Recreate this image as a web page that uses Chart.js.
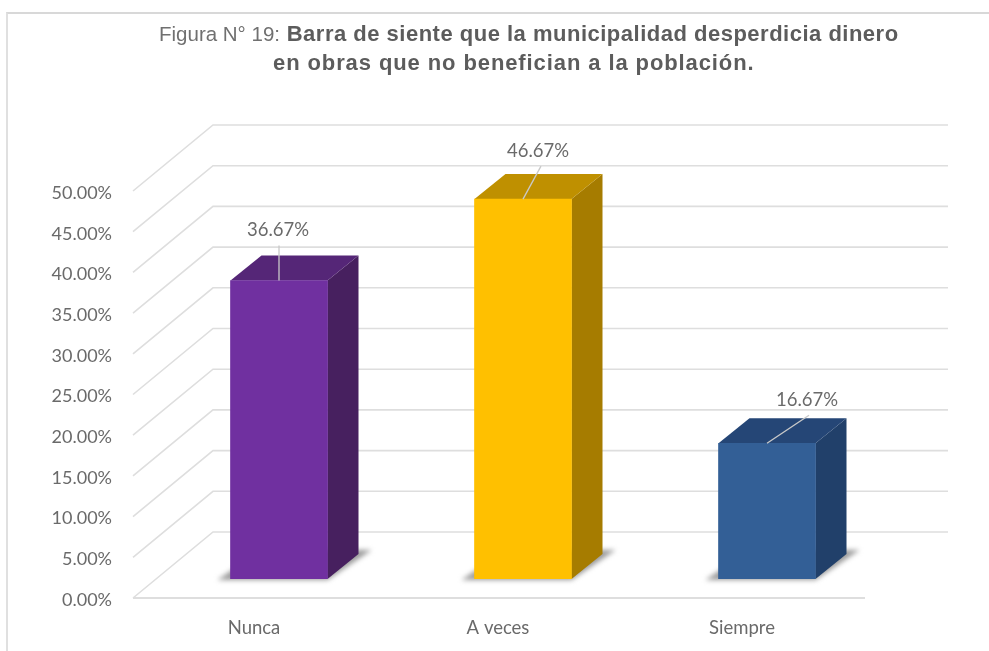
<!DOCTYPE html>
<html><head><meta charset="utf-8">
<script src="https://cdn.jsdelivr.net/npm/chart.js@4"></script>
<style>
html,body{margin:0;padding:0;background:#fff;width:989px;height:651px;overflow:hidden}
#wrap{position:relative;width:989px;height:651px;filter:blur(0.6px)}
canvas{position:absolute;left:0;top:0}
#title{position:absolute;left:0;top:0;width:989px;font-family:"Liberation Sans",Arial,sans-serif;white-space:nowrap}
#title div{position:absolute;line-height:29px}
#l1{left:159px;top:19px;color:#707070;font-size:20.5px}
#l1 b{font-size:22px;letter-spacing:.5px;color:#5c5c5c;margin-left:1px}
#l2{left:273px;top:48px;font-size:22px;letter-spacing:.9px;font-weight:bold;color:#5c5c5c}
#frame{position:absolute;left:6px;top:12px;width:983px;height:640px;border-left:2px solid #e0e0e0;border-top:2px solid #d8d8d8}
</style></head><body>
<div id="wrap">
<div id="frame"></div>
<canvas id="c" width="989" height="651"></canvas>
<div id="title"><div id="l1">Figura N° 19: <b>Barra de siente que la municipalidad desperdicia dinero</b></div><div id="l2">en obras que no benefician a la población.</div></div>
</div>
<script>
const categories = ['Nunca', 'A veces', 'Siempre'];
const values = [36.67, 46.67, 16.67];
const frontColors = ['#7030a0', '#ffc000', '#335f96'];
const sideColors = ['#47205f', '#a67c00', '#21406a'];
const topColors = ['#552677', '#bf9000', '#254676'];
const labelOffsets = [[-1, -50, 0, -35], [15, -48, 18, -33], [40, -43, 42, -28]];

const WALL_DX = 80, WALL_DY = 66;
const BAR_DX = 24, BAR_DY = -19;
const SIDE_DX = 31, SIDE_DY = 25;
const GRID = '#dedede', TEXT = '#6a6a6a';
const FONT = 'Lato, sans-serif';

const walls = {
  id: 'walls',
  beforeDraw(chart) {
    // axis labels sit slightly below and left of the wall corners
    chart.ctx.save();
    chart.ctx.translate(-1, 2);
  },
  beforeDatasetsDraw(chart) {
    const { ctx, scales: { x, y } } = chart;
    ctx.restore();
    const area = chart.chartArea;
    ctx.save();
    ctx.strokeStyle = GRID;
    ctx.lineWidth = 1.6;
    y.ticks.forEach(t => {
      const py = y.getPixelForValue(t.value);
      ctx.beginPath();
      ctx.moveTo(area.left, py);
      ctx.lineTo(area.left + WALL_DX, py - WALL_DY);
      ctx.lineTo(area.right + WALL_DX + 3, py - WALL_DY);
      ctx.stroke();
    });
    ctx.lineWidth = 2;
    ctx.beginPath();
    ctx.moveTo(area.left, area.bottom);
    ctx.lineTo(area.right, area.bottom);
    ctx.stroke();
    // floor shadows and 3D faces sit behind the library's own bars
    const meta = chart.getDatasetMeta(0);
    meta.data.forEach((bar, i) => {
      const h = bar.getProps(['x', 'y', 'base', 'width'], false);
      const l = h.x - h.width / 2 + BAR_DX, r = h.x + h.width / 2 + BAR_DX;
      const t = h.y + BAR_DY, b = h.base + BAR_DY;
      ctx.save();
      ctx.filter = 'blur(2.5px)';
      ctx.fillStyle = '#9a9a9a';
      ctx.beginPath();
      ctx.moveTo(l - 13, b + 1); ctx.lineTo(r, b + 1);
      ctx.lineTo(r + 44, b - 29); ctx.lineTo(l + 31, b - 29);
      ctx.closePath(); ctx.fill();
      ctx.restore();
      ctx.fillStyle = sideColors[i];
      ctx.beginPath();
      ctx.moveTo(r, t); ctx.lineTo(r + SIDE_DX, t - SIDE_DY);
      ctx.lineTo(r + SIDE_DX, b - SIDE_DY); ctx.lineTo(r, b);
      ctx.closePath(); ctx.fill();
      ctx.fillStyle = topColors[i];
      ctx.beginPath();
      ctx.moveTo(l, t); ctx.lineTo(l + SIDE_DX, t - SIDE_DY);
      ctx.lineTo(r + SIDE_DX, t - SIDE_DY); ctx.lineTo(r, t);
      ctx.closePath(); ctx.fill();
    });
    ctx.restore();
    ctx.save();
    ctx.translate(BAR_DX, BAR_DY);
  },
  afterDatasetsDraw(chart) {
    const { ctx } = chart;
    ctx.restore();
    ctx.save();
    ctx.font = '18.5px ' + FONT;
    ctx.textAlign = 'center';
    ctx.textBaseline = 'middle';
    chart.getDatasetMeta(0).data.forEach((bar, i) => {
      const cx = bar.x + BAR_DX, ty = bar.y + BAR_DY;
      const o = labelOffsets[i];
      ctx.strokeStyle = '#c9c9c9';
      ctx.lineWidth = 1.3;
      ctx.beginPath();
      ctx.moveTo(cx, ty);
      ctx.lineTo(cx + o[2], ty + o[3]);
      ctx.stroke();
      ctx.fillStyle = TEXT;
      ctx.fillText(values[i].toFixed(2) + '%', cx + o[0], ty + o[1]);
    });
    ctx.restore();
  }
};

new Chart(document.getElementById('c'), {
  type: 'bar',
  data: {
    labels: categories,
    datasets: [{ data: values, backgroundColor: frontColors, borderWidth: 0, barThickness: 97 }]
  },
  options: {
    responsive: false,
    animation: false,
    layout: { padding: { top: 191, right: 124, left: 0, bottom: 0 } },
    plugins: { legend: { display: false }, title: { display: false }, tooltip: { enabled: false } },
    scales: {
      x: {
        grid: { display: false },
        border: { display: false },
        afterFit(s) { s.height = 53; },
        ticks: { color: TEXT, font: { family: FONT, size: 18.5 }, padding: 9, maxRotation: 0 }
      },
      y: {
        min: 0, max: 50,
        grid: { display: false },
        border: { display: false },
        afterFit(s) { s.width = 133; },
        ticks: {
          stepSize: 5, color: TEXT, font: { family: FONT, size: 18 }, padding: 12,
          callback: v => v.toFixed(2) + '%'
        }
      }
    }
  },
  plugins: [walls]
});
</script>
</body></html>
